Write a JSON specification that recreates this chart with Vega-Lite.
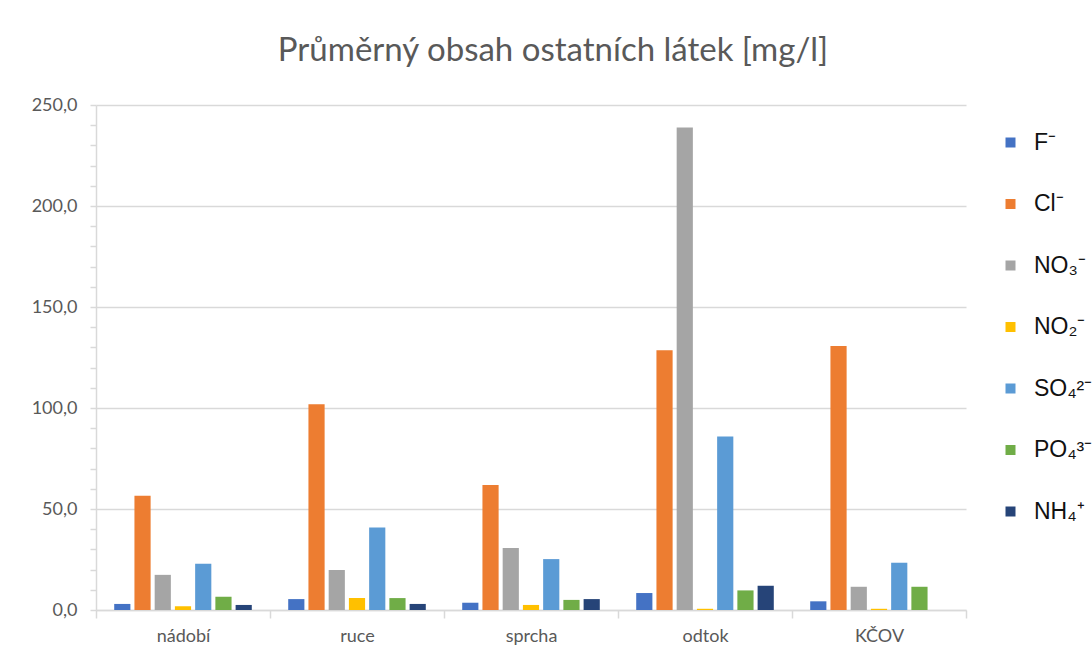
{
  "$schema": "https://vega.github.io/schema/vega-lite/v6.json",
  "autosize": {"type": "none"},
  "width": 870,
  "height": 505,
  "padding": {"left": 96, "top": 105, "right": 126, "bottom": 51},
  "background": "white",
  "title": {
    "text": "Průměrný obsah ostatních látek [mg/l]",
    "font": "Lato",
    "fontSize": 33,
    "fontWeight": "normal",
    "color": "#595959",
    "offset": 28,
    "dx": 22,
    "anchor": "middle"
  },
  "data": {
    "values": [
      {"misto": "nádobí", "latka": "F⁻", "hodnota": 3.0},
      {"misto": "nádobí", "latka": "Cl⁻", "hodnota": 56.6},
      {"misto": "nádobí", "latka": "NO₃⁻", "hodnota": 17.4},
      {"misto": "nádobí", "latka": "NO₂⁻", "hodnota": 1.8},
      {"misto": "nádobí", "latka": "SO₄²⁻", "hodnota": 22.9},
      {"misto": "nádobí", "latka": "PO₄³⁻", "hodnota": 6.6},
      {"misto": "nádobí", "latka": "NH₄⁺", "hodnota": 2.5},
      {"misto": "ruce", "latka": "F⁻", "hodnota": 5.4},
      {"misto": "ruce", "latka": "Cl⁻", "hodnota": 101.8},
      {"misto": "ruce", "latka": "NO₃⁻", "hodnota": 19.8},
      {"misto": "ruce", "latka": "NO₂⁻", "hodnota": 5.9},
      {"misto": "ruce", "latka": "SO₄²⁻", "hodnota": 40.8},
      {"misto": "ruce", "latka": "PO₄³⁻", "hodnota": 5.9},
      {"misto": "ruce", "latka": "NH₄⁺", "hodnota": 3.0},
      {"misto": "sprcha", "latka": "F⁻", "hodnota": 3.6},
      {"misto": "sprcha", "latka": "Cl⁻", "hodnota": 61.9},
      {"misto": "sprcha", "latka": "NO₃⁻", "hodnota": 30.7},
      {"misto": "sprcha", "latka": "NO₂⁻", "hodnota": 2.5},
      {"misto": "sprcha", "latka": "SO₄²⁻", "hodnota": 25.2},
      {"misto": "sprcha", "latka": "PO₄³⁻", "hodnota": 5.0},
      {"misto": "sprcha", "latka": "NH₄⁺", "hodnota": 5.4},
      {"misto": "odtok", "latka": "F⁻", "hodnota": 8.4},
      {"misto": "odtok", "latka": "Cl⁻", "hodnota": 128.6},
      {"misto": "odtok", "latka": "NO₃⁻", "hodnota": 238.8},
      {"misto": "odtok", "latka": "NO₂⁻", "hodnota": 0.6},
      {"misto": "odtok", "latka": "SO₄²⁻", "hodnota": 85.9},
      {"misto": "odtok", "latka": "PO₄³⁻", "hodnota": 9.7},
      {"misto": "odtok", "latka": "NH₄⁺", "hodnota": 12.0},
      {"misto": "KČOV", "latka": "F⁻", "hodnota": 4.3},
      {"misto": "KČOV", "latka": "Cl⁻", "hodnota": 130.7},
      {"misto": "KČOV", "latka": "NO₃⁻", "hodnota": 11.5},
      {"misto": "KČOV", "latka": "NO₂⁻", "hodnota": 0.6},
      {"misto": "KČOV", "latka": "SO₄²⁻", "hodnota": 23.4},
      {"misto": "KČOV", "latka": "PO₄³⁻", "hodnota": 11.5},
      {"misto": "KČOV", "latka": "NH₄⁺", "hodnota": 0}
    ]
  },
  "mark": {"type": "bar"},
  "encoding": {
    "x": {
      "field": "misto",
      "type": "nominal",
      "sort": ["nádobí", "ruce", "sprcha", "odtok", "KČOV"],
      "scale": {"paddingInner": 0, "paddingOuter": 0},
      "axis": {
        "title": null,
        "labelAngle": 0,
        "labelFont": "Lato",
        "labelFontSize": 18,
        "labelColor": "#595959",
        "labelPadding": 9,
        "domainColor": "#d9d9d9",
        "domainWidth": 1.5,
        "tickColor": "#d9d9d9",
        "tickWidth": 1.5,
        "tickSize": 8,
        "tickBand": "extent",
        "grid": false
      }
    },
    "xOffset": {
      "field": "latka",
      "type": "nominal",
      "sort": ["F⁻", "Cl⁻", "NO₃⁻", "NO₂⁻", "SO₄²⁻", "PO₄³⁻", "NH₄⁺"],
      "scale": {"paddingInner": 0.2, "paddingOuter": 0.9}
    },
    "y": {
      "field": "hodnota",
      "type": "quantitative",
      "scale": {"domain": [0, 250], "nice": false},
      "axis": {
        "title": null,
        "values": [0, 10, 20, 30, 40, 50, 60, 70, 80, 90, 100, 110, 120, 130, 140, 150, 160, 170, 180, 190, 200, 210, 220, 230, 240, 250],
        "labelExpr": "datum.value % 50 === 0 ? replace(format(datum.value, '.1f'), '.', ',') : ''",
        "labelFont": "Lato",
        "labelFontSize": 18,
        "labelColor": "#595959",
        "labelPadding": 13,
        "domain": true,
        "domainColor": "#d9d9d9",
        "domainWidth": 1.5,
        "tickColor": "#d9d9d9",
        "tickWidth": 1.5,
        "tickSize": 6,
        "grid": true,
        "gridColor": "#d9d9d9",
        "gridWidth": 1.5,
        "gridOpacity": {"condition": {"test": "datum.value % 50 === 0", "value": 1}, "value": 0}
      }
    },
    "color": {
      "field": "latka",
      "type": "nominal",
      "sort": ["F⁻", "Cl⁻", "NO₃⁻", "NO₂⁻", "SO₄²⁻", "PO₄³⁻", "NH₄⁺"],
      "scale": {
        "domain": ["F⁻", "Cl⁻", "NO₃⁻", "NO₂⁻", "SO₄²⁻", "PO₄³⁻", "NH₄⁺"],
        "range": ["#4472C4", "#ED7D31", "#A5A5A5", "#FFC000", "#5B9BD5", "#70AD47", "#264478"]
      },
      "legend": {
        "title": null,
        "orient": "none",
        "legendX": 903,
        "legendY": 26,
        "symbolType": "square",
        "symbolSize": 100,
        "symbolStrokeWidth": 0,
        "labelFont": "Liberation Sans",
        "labelFontSize": 23,
        "labelColor": "#111111",
        "labelOffset": 12,
        "rowPadding": 37.5
      }
    }
  },
  "config": {
    "view": {"stroke": null}
  }
}
